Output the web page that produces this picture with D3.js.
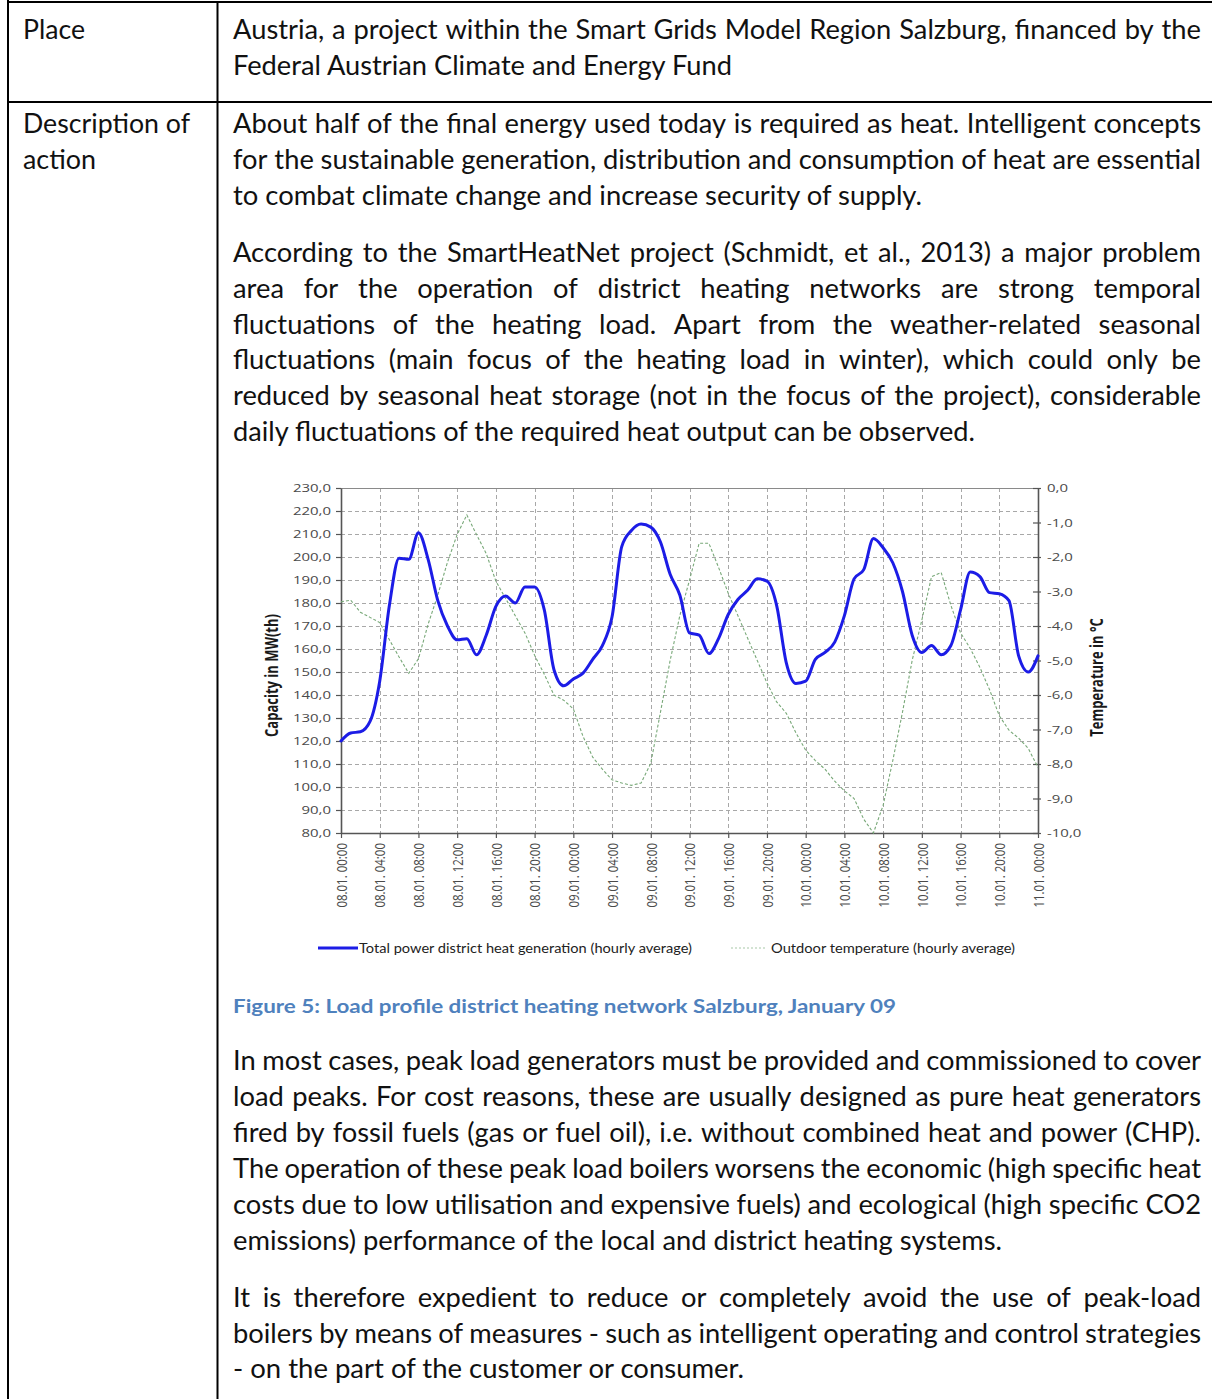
<!DOCTYPE html>
<html>
<head>
<meta charset="utf-8">
<script src="https://cdn.jsdelivr.net/npm/d3@7"></script>
<style>
  html, body { margin: 0; padding: 0; background: #fff; }
  svg { display: block; }
</style>
</head>
<body>
<svg id="page" width="1212" height="1399"></svg>
<script>
// ---- Chart data: hourly averages, 08.01. 00:00 to 11.01. 00:00 ----
const hourIndex = [
  0,1,2,3,4,5,6,7,8,9,10,11,12,13,14,15,16,17,18,19,20,21,22,23,
  24,25,26,27,28,29,30,31,32,33,34,35,36,37,38,39,40,41,42,43,44,45,46,47,
  48,49,50,51,52,53,54,55,56,57,58,59,60,61,62,63,64,65,66,67,68,69,70,71,72
];

// Total power district heat generation, MW(th)
const heatMW = [
  120, 123.5, 124, 128.5, 146, 179, 199.5, 199, 210.5, 199, 181, 170,
  164, 164.5, 157.5, 166, 178.5, 183, 180, 187, 187, 177, 151, 144,
  147, 149.5, 155.5, 161.5, 174, 204.5, 211.5, 214.3, 213, 206.5, 192.5, 183.5,
  167, 166, 158, 164.5, 175, 181.5, 185.5, 190.5, 189.5, 179, 154, 145,
  146, 155.5, 158.5, 163, 174.5, 190.5, 194.5, 208, 204, 197.5, 185, 166,
  158.5, 161.5, 157.5, 161.5, 177, 193.5, 191.5, 184.5, 184, 181, 157, 150,
  157
];

// Outdoor temperature, °C
const tempC = [
  -3.3, -3.25, -3.6, -3.75, -3.9, -4.4, -4.9, -5.37, -4.95, -3.95, -3.1, -2.15,
  -1.35, -0.78, -1.35, -1.9, -2.7, -3.2, -3.7, -4.2, -4.85, -5.4, -6.0, -6.15,
  -6.4, -7.2, -7.8, -8.15, -8.46, -8.55, -8.62, -8.55, -7.98, -6.5, -5.0, -3.7,
  -2.67, -1.6, -1.6, -2.3, -3.05, -3.7, -4.35, -5.0, -5.65, -6.2, -6.53, -7.1,
  -7.6, -7.9, -8.15, -8.5, -8.78, -9.0, -9.6, -10.0, -9.2, -7.9, -6.5, -5.0,
  -3.83, -2.57, -2.45, -3.4, -4.2, -4.65, -5.2, -5.85, -6.6, -7.02, -7.25, -7.55,
  -8.1
];

// Axis ticks
const timeTickHours = [0,4,8,12,16,20,24,28,32,36,40,44,48,52,56,60,64,68,72];
const timeTickLabels = [
  "08.01. 00:00","08.01. 04:00","08.01. 08:00","08.01. 12:00","08.01. 16:00","08.01. 20:00",
  "09.01. 00:00","09.01. 04:00","09.01. 08:00","09.01. 12:00","09.01. 16:00","09.01. 20:00",
  "10.01. 00:00","10.01. 04:00","10.01. 08:00","10.01. 12:00","10.01. 16:00","10.01. 20:00",
  "11.01. 00:00"
];
const capacityTicks = [80,90,100,110,120,130,140,150,160,170,180,190,200,210,220,230];
const temperatureTicks = [-10,-9,-8,-7,-6,-5,-4,-3,-2,-1,0];

const seriesNames = [
  "Total power district heat generation (hourly average)",
  "Outdoor temperature (hourly average)"
];
const yTitleLeft = "Capacity in MW(th)";
const yTitleRight = "Temperature in °C";
const captionText = "Figure 5: Load profile district heating network Salzburg, January 09";

// ---- Document text around the figure ----
const textLines = [
  { t: "Place", x0: 23, x1: 85, y: 39, j: false },
  { t: "Austria, a project within the Smart Grids Model Region Salzburg, financed by the", x0: 233, x1: 1201, y: 39, j: true },
  { t: "Federal Austrian Climate and Energy Fund", x0: 233, x1: 732, y: 75, j: false },

  { t: "Description of", x0: 23, x1: 190, y: 133, j: false },
  { t: "action", x0: 23, x1: 96, y: 169, j: false },

  { t: "About half of the final energy used today is required as heat. Intelligent concepts", x0: 233, x1: 1201, y: 133, j: true },
  { t: "for the sustainable generation, distribution and consumption of heat are essential", x0: 233, x1: 1201, y: 169, j: true },
  { t: "to combat climate change and increase security of supply.", x0: 233, x1: 922, y: 205, j: false },

  { t: "According to the SmartHeatNet project (Schmidt, et al., 2013) a major problem", x0: 233, x1: 1201, y: 262, j: true },
  { t: "area for the operation of district heating networks are strong temporal", x0: 233, x1: 1201, y: 298, j: true },
  { t: "fluctuations of the heating load. Apart from the weather-related seasonal", x0: 233, x1: 1201, y: 334, j: true },
  { t: "fluctuations (main focus of the heating load in winter), which could only be", x0: 233, x1: 1201, y: 369, j: true },
  { t: "reduced by seasonal heat storage (not in the focus of the project), considerable", x0: 233, x1: 1201, y: 405, j: true },
  { t: "daily fluctuations of the required heat output can be observed.", x0: 233, x1: 975, y: 441, j: false },

  { t: "In most cases, peak load generators must be provided and commissioned to cover", x0: 233, x1: 1201, y: 1070, j: true },
  { t: "load peaks. For cost reasons, these are usually designed as pure heat generators", x0: 233, x1: 1201, y: 1106, j: true },
  { t: "fired by fossil fuels (gas or fuel oil), i.e. without combined heat and power (CHP).", x0: 233, x1: 1201, y: 1142, j: true },
  { t: "The operation of these peak load boilers worsens the economic (high specific heat", x0: 233, x1: 1201, y: 1178, j: true },
  { t: "costs due to low utilisation and expensive fuels) and ecological (high specific CO2", x0: 233, x1: 1201, y: 1214, j: true },
  { t: "emissions) performance of the local and district heating systems.", x0: 233, x1: 1002, y: 1250, j: false },

  { t: "It is therefore expedient to reduce or completely avoid the use of peak-load", x0: 233, x1: 1201, y: 1307, j: true },
  { t: "boilers by means of measures - such as intelligent operating and control strategies", x0: 233, x1: 1201, y: 1343, j: true },
  { t: "- on the part of the customer or consumer.", x0: 233, x1: 744, y: 1378, j: false }
];

const bodyFont = "Lato, 'Open Sans', sans-serif";
const chartFont = "'Open Sans', 'DejaVu Sans', sans-serif";

const svg = d3.select("#page");
svg.append("rect").attr("width", 1212).attr("height", 1399).attr("fill", "#fff");

// ---- Table rules ----
const rules = svg.append("g").attr("stroke", "#000").attr("stroke-width", 2);
rules.append("line").attr("x1", 8).attr("x2", 8).attr("y1", 0).attr("y2", 1399);
rules.append("line").attr("x1", 217.5).attr("x2", 217.5).attr("y1", 2).attr("y2", 1399);
rules.append("line").attr("x1", 7).attr("x2", 1212).attr("y1", 2).attr("y2", 2);
rules.append("line").attr("x1", 7).attr("x2", 1212).attr("y1", 102).attr("y2", 102);

// ---- Body text, justified where the paragraph is justified ----
const textG = svg.append("g")
  .style("font-family", bodyFont)
  .attr("fill", "#111");

// measuring helper
const probe = textG.append("text").attr("x", -2000).attr("y", -2000);
function measure(str, size) {
  probe.style("font-size", size + "px").text(str);
  return probe.node().getComputedTextLength();
}

// pick the size at which the ragged (last) lines have their natural width
const ratios = textLines.filter(l => !l.j && l.x0 > 200).map(l => (l.x1 - l.x0) / measure(l.t, 100));
const bodySize = 100 * d3.median(ratios);
const spaceW = measure("a a", bodySize) - measure("aa", bodySize);

textLines.forEach(line => {
  const target = line.x1 - line.x0;
  if (!line.j) {
    textG.append("text")
      .style("font-size", bodySize + "px")
      .attr("x", line.x0).attr("y", line.y)
      .attr("textLength", target).attr("lengthAdjust", "spacingAndGlyphs")
      .text(line.t);
    return;
  }
  const words = line.t.split(" ");
  let size = bodySize;
  let widths = words.map(w => measure(w, size));
  const gaps = words.length - 1;
  let sum = d3.sum(widths);
  const minGap = spaceW * 0.75;
  if ((target - sum) / gaps < minGap) {
    const f = (target - gaps * minGap) / sum;
    size = bodySize * f;
    widths = words.map(w => measure(w, size));
    sum = d3.sum(widths);
  }
  const gap = (target - sum) / gaps;
  let cx = line.x0;
  const txt = textG.append("text").attr("y", line.y).style("font-size", size + "px");
  words.forEach((w, i) => {
    txt.append("tspan").attr("x", cx).text(w);
    cx += widths[i] + gap;
  });
});
probe.remove();

// ---- Chart ----
const plot = { left: 341, right: 1038, top: 488, bottom: 833 };
const x = d3.scaleLinear().domain([0, 72]).range([plot.left, plot.right]);
const yL = d3.scaleLinear().domain([80, 230]).range([plot.bottom, plot.top]);
const yR = d3.scaleLinear().domain([-10, 0]).range([plot.bottom, plot.top]);
const fmt = d => d.toFixed(1).replace(".", ",");
const stretch = 1.3;

const chart = svg.append("g").style("font-family", chartFont);

// grid
const grid = chart.append("g")
  .attr("stroke", "#a8a8a8").attr("stroke-width", 1).attr("stroke-dasharray", "4,3");
grid.selectAll("line.h").data(capacityTicks.slice(1, -1)).join("line")
  .attr("class", "h")
  .attr("x1", plot.left).attr("x2", plot.right)
  .attr("y1", d => yL(d) + 0.5).attr("y2", d => yL(d) + 0.5);
grid.selectAll("line.v").data(timeTickHours.slice(1, -1)).join("line")
  .attr("class", "v")
  .attr("y1", plot.top).attr("y2", plot.bottom)
  .attr("x1", d => Math.round(x(d)) + 0.5).attr("x2", d => Math.round(x(d)) + 0.5);

// plot frame top
chart.append("line")
  .attr("x1", plot.left).attr("x2", plot.right)
  .attr("y1", plot.top + 0.5).attr("y2", plot.top + 0.5)
  .attr("stroke", "#8a8a8a").attr("stroke-width", 1);

// axes
function styleAxis(g) {
  g.select(".domain").attr("stroke", "#555").attr("stroke-width", 1.6);
  g.selectAll(".tick line").attr("stroke", "#555").attr("stroke-width", 1.2);
  g.selectAll(".tick text").attr("fill", "#4a4a4a").style("font-size", "11.5px").style("font-family", chartFont);
}

const axL = chart.append("g")
  .attr("transform", `translate(${plot.left},0)`)
  .call(d3.axisLeft(yL).tickValues(capacityTicks).tickFormat(fmt).tickSizeInner(5).tickSizeOuter(0).tickPadding(3));
styleAxis(axL);
axL.selectAll(".tick text").attr("x", -10 / stretch).attr("transform", `scale(${stretch},1)`);

const axR = chart.append("g")
  .attr("transform", `translate(${plot.right},0)`)
  .call(d3.axisRight(yR).tickValues(temperatureTicks).tickFormat(fmt).tickSizeInner(4).tickSizeOuter(0));
styleAxis(axR);
axR.selectAll(".tick line").attr("x1", -5).attr("x2", 3);
axR.selectAll(".tick text").attr("x", 9 / stretch).attr("transform", `scale(${stretch},1)`);

const axB = chart.append("g")
  .attr("transform", `translate(0,${plot.bottom})`)
  .call(d3.axisBottom(x).tickValues(timeTickHours)
    .tickFormat((d, i) => timeTickLabels[i]).tickSizeInner(5).tickSizeOuter(0));
styleAxis(axB);
axB.selectAll(".tick text")
  .attr("text-anchor", "end")
  .attr("x", -10).attr("y", 0).attr("dy", "0.35em")
  .attr("transform", `scale(${stretch},1) rotate(-90)`);

// axis titles
chart.append("text")
  .attr("transform", `translate(272,${(plot.top + plot.bottom) / 2 + 15}) scale(${stretch},1) rotate(-90)`)
  .attr("text-anchor", "middle").attr("dy", "0.35em")
  .style("font-size", "13px").style("font-weight", "bold").attr("fill", "#1a1a1a")
  .text(yTitleLeft);
chart.append("text")
  .attr("transform", `translate(1097,${(plot.top + plot.bottom) / 2 + 17}) scale(${stretch},1) rotate(-90)`)
  .attr("text-anchor", "middle").attr("dy", "0.35em")
  .style("font-size", "13px").style("font-weight", "bold").attr("fill", "#1a1a1a")
  .text(yTitleRight);

// series
const tempLine = d3.line().x((d, i) => x(hourIndex[i])).y(d => yR(d));
chart.append("path").datum(tempC)
  .attr("d", tempLine)
  .attr("fill", "none").attr("stroke", "#78a878").attr("stroke-width", 1.1)
  .attr("stroke-dasharray", "3,2");

const heatLine = d3.line().x((d, i) => x(hourIndex[i])).y(d => yL(d)).curve(d3.curveMonotoneX);
chart.append("path").datum(heatMW)
  .attr("d", heatLine)
  .attr("fill", "none").attr("stroke", "#1c1ce6").attr("stroke-width", 3)
  .attr("stroke-linejoin", "round").attr("stroke-linecap", "round");

// legend
const legend = chart.append("g").style("font-family", bodyFont).style("font-size", "14px").attr("fill", "#222");
legend.append("line").attr("x1", 318).attr("x2", 358).attr("y1", 948).attr("y2", 948)
  .attr("stroke", "#1c1ce6").attr("stroke-width", 3);
legend.append("text").attr("x", 359).attr("y", 953)
  .attr("textLength", 333).attr("lengthAdjust", "spacingAndGlyphs").text(seriesNames[0]);
legend.append("line").attr("x1", 731).attr("x2", 767).attr("y1", 948).attr("y2", 948)
  .attr("stroke", "#a8c8a8").attr("stroke-width", 1.2).attr("stroke-dasharray", "2,2");
legend.append("text").attr("x", 771).attr("y", 953)
  .attr("textLength", 244).attr("lengthAdjust", "spacingAndGlyphs").text(seriesNames[1]);

// caption
svg.append("text")
  .attr("x", 233).attr("y", 1013)
  .style("font-family", bodyFont).style("font-size", "19px").style("font-weight", "bold")
  .attr("fill", "#4f81bd")
  .attr("textLength", 663).attr("lengthAdjust", "spacingAndGlyphs")
  .text(captionText);
</script>
</body>
</html>
